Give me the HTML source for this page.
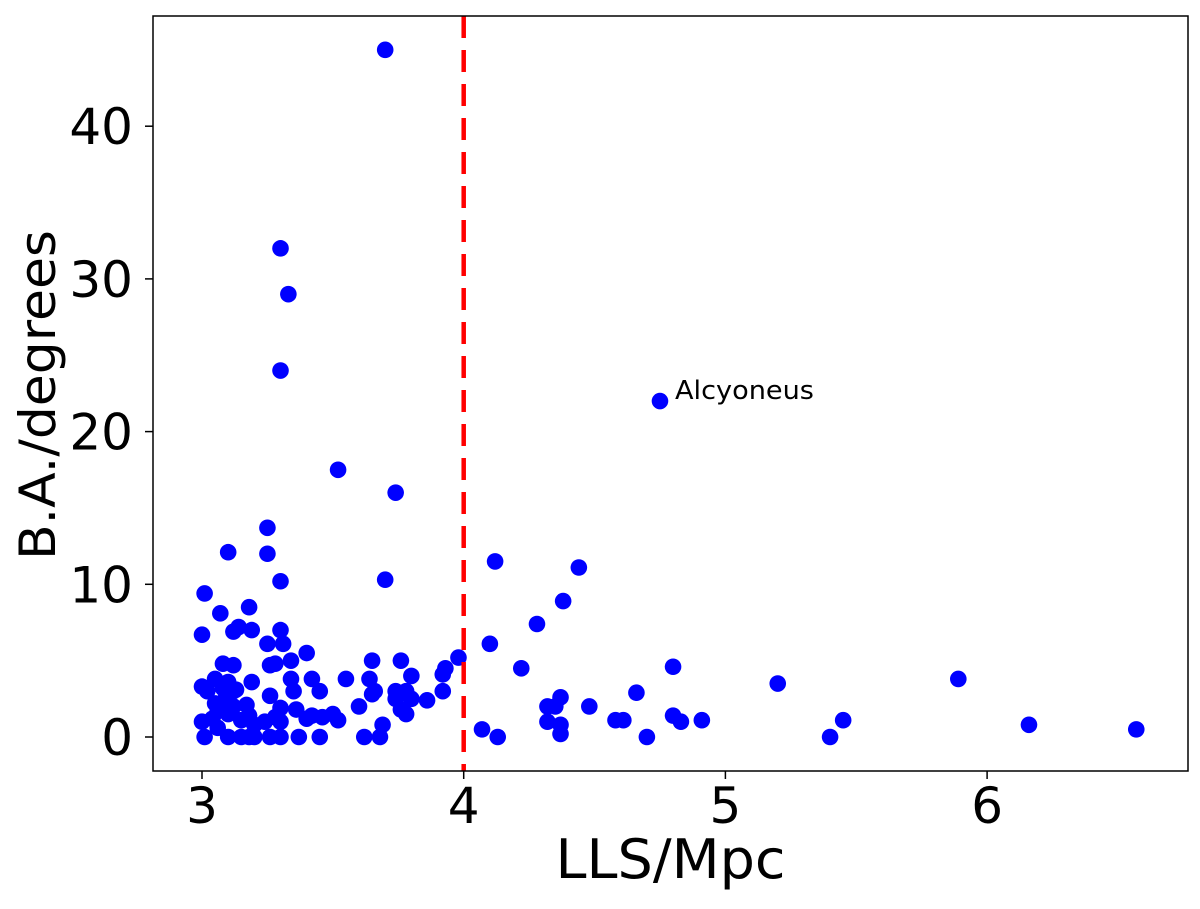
<!DOCTYPE html>
<html><head><meta charset="utf-8"><style>
html,body{margin:0;padding:0;background:#fff;}
svg text{font-family:"DejaVu Sans","Liberation Sans",sans-serif;fill:#000;}
</style></head><body>
<svg id="chart" width="1200" height="904" xmlns="http://www.w3.org/2000/svg">
<rect x="0" y="0" width="1200" height="904" fill="#fff"/>
<g id="points"></g>
<g id="axes"></g>
</svg>
<script>
const xs = [3.70,3.30,3.33,3.30,4.75,3.52,3.74,3.25,3.10,3.25,4.12,4.44,3.70,3.30,3.01,4.38,3.18,3.07,4.28,3.14,3.19,3.30,3.12,3.00,3.25,3.31,4.10,3.40,3.98,3.65,3.76,3.34,3.28,3.26,3.08,3.12,4.80,4.22,3.93,3.92,3.55,3.64,3.80,3.42,3.34,5.89,5.20,3.05,3.10,3.19,3.00,3.02,3.08,3.13,3.35,3.45,3.66,3.74,3.78,3.92,4.66,3.26,3.65,4.37,3.74,3.86,3.80,3.05,3.12,4.32,4.35,4.48,3.30,3.36,3.76,3.60,3.10,3.18,3.28,3.42,3.50,3.78,3.04,3.15,3.24,3.40,3.46,3.52,3.00,3.30,4.32,4.37,4.58,4.61,4.80,4.83,4.91,5.45,3.69,6.16,6.57,4.07,3.06,3.20,3.01,3.10,3.15,3.20,3.26,3.30,3.37,3.45,3.62,3.68,4.13,4.37,4.70,5.40,3.18,3.09,3.12,3.06,3.17];
const ys = [45,32,29,24,22,17.5,16,13.7,12.1,12,11.5,11.1,10.3,10.2,9.4,8.9,8.5,8.1,7.4,7.2,7.0,7.0,6.9,6.7,6.1,6.1,6.1,5.5,5.2,5.0,5.0,5.0,4.8,4.7,4.8,4.7,4.6,4.5,4.5,4.1,3.8,3.8,4.0,3.8,3.8,3.8,3.5,3.8,3.6,3.6,3.3,3.0,3.2,3.1,3.0,3.0,3.0,3.0,3.0,3.0,2.9,2.7,2.8,2.6,2.5,2.4,2.5,2.2,2.0,2.0,2.0,2.0,1.9,1.8,1.8,2.0,1.5,1.4,1.3,1.4,1.5,1.5,1.2,1.1,1.0,1.2,1.3,1.1,1.0,1.0,1.0,0.8,1.1,1.1,1.4,1.0,1.1,1.1,0.8,0.8,0.5,0.5,0.6,0.8,0.0,0.0,0.0,0.0,0.0,0.0,0.0,0.0,0.0,0.0,0.0,0.2,0.0,0.0,0.0,2.5,3.0,1.7,2.1];
const xTicks = [3,4,5,6];
const yTicks = [0,10,20,30,40];
const threshold = 4;
const annotationIndex = 4;
const annotationLabel = "Alcyoneus";

const NS = "http://www.w3.org/2000/svg";
const L = 153, R = 1188, T = 16, B = 771;
function sx(v){ return 202 + (v - 3) * 261.7; }
function sy(v){ return 737 - v * 15.27; }
function mk(tag, attrs, parent){
  const e = document.createElementNS(NS, tag);
  for (const k in attrs) e.setAttribute(k, attrs[k]);
  parent.appendChild(e);
  return e;
}
const pts = document.getElementById('points');
const axes = document.getElementById('axes');
for (let i = 0; i < xs.length; i++) {
  const c = mk('circle', {cx: sx(xs[i]), cy: sy(ys[i]), r: 8.3, fill: '#0000ff'}, pts);
  
  
}
const vl = mk('line', {x1: sx(threshold), x2: sx(threshold), y1: T, y2: B, stroke: '#ff0000', 'stroke-width': 4.5, 'stroke-dasharray': '22 12'}, pts);


const an = mk('text', {x: sx(xs[annotationIndex]) + 15, y: sy(ys[annotationIndex]) - 2, 'font-size': 26, textLength: 139, lengthAdjust: 'spacingAndGlyphs'}, pts);
an.textContent = annotationLabel;



const fr = mk('rect', {x: L, y: T, width: R - L, height: B - T, fill: 'none', stroke: '#000', 'stroke-width': 1.5}, axes);


for (const t of xTicks) {
  const tl = mk('line', {x1: sx(t), x2: sx(t), y1: B, y2: B + 8, stroke: '#000', 'stroke-width': 1.5}, axes);
  
  
  const tx = mk('text', {x: sx(t), y: B + 52, 'font-size': 50, 'text-anchor': 'middle'}, axes);
  tx.textContent = t;
  
  
}
for (const t of yTicks) {
  const tl = mk('line', {x1: L - 8, x2: L, y1: sy(t), y2: sy(t), stroke: '#000', 'stroke-width': 1.5}, axes);
  
  
  const tx = mk('text', {x: L - 20, y: sy(t) + 18, 'font-size': 50, 'text-anchor': 'end'}, axes);
  tx.textContent = t;
  
  
}
const xt = mk('text', {x: (L + R) / 2, y: 878, 'font-size': 54, 'text-anchor': 'middle', textLength: 230, lengthAdjust: 'spacingAndGlyphs'}, axes);
xt.textContent = 'LLS/Mpc';


const yt = mk('text', {x: 0, y: 0, 'font-size': 50, 'text-anchor': 'middle', textLength: 330, lengthAdjust: 'spacingAndGlyphs', transform: 'translate(55,395) rotate(-90)'}, axes);
yt.textContent = 'B.A./degrees';


</script>
</body></html>
